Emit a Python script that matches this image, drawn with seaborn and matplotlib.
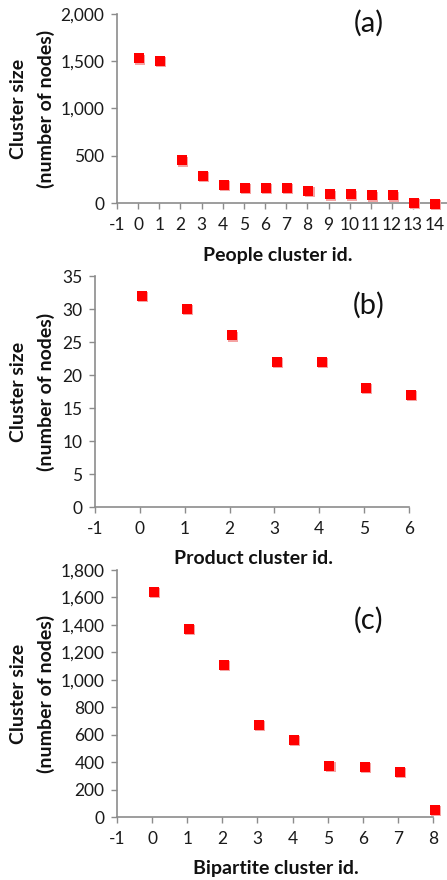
import matplotlib
matplotlib.use("Agg")
import matplotlib.pyplot as plt
import matplotlib.transforms as mtransforms
from matplotlib.ticker import FuncFormatter, MultipleLocator
import seaborn as sns
import pandas as pd

sns.set_theme(style="white")
plt.rcParams['font.family'] = ['Lato', 'DejaVu Sans']
plt.rcParams['axes.unicode_minus'] = False

# People clusters (a)
people_ids = list(range(15))
people_sizes = [1530, 1500, 450, 290, 190, 160, 160, 160, 130, 90, 90, 80, 80, 0, -10]

# Product clusters (b)
product_ids = list(range(7))
product_sizes = [32, 30, 26, 22, 22, 18, 17]

# Bipartite clusters (c)
bipartite_ids = list(range(9))
bipartite_sizes = [1640, 1370, 1110, 670, 560, 370, 365, 330, 50]

W, H = 447, 880
fig = plt.figure(figsize=(W / 100, H / 100), dpi=100)

GRAY = "#8c8c8c"
TXT = "#111111"


def box(left, top, right, bottom):
    return [left / W, 1 - bottom / H, (right - left) / W, (bottom - top) / H]


panels = [
    dict(ids=people_ids, sizes=people_sizes, rect=box(117, 14, 447, 203),
         xlim=(-1, 14.6), ylim=(0, 2000), ystep=500, tag="(a)",
         xlabel="People cluster id.", xlab=(278, 255), tag_y=23),
    dict(ids=product_ids, sizes=product_sizes, rect=box(95, 276, 409, 507),
         xlim=(-1, 6), ylim=(0, 35), ystep=5, tag="(b)",
         xlabel="Product cluster id.", xlab=(253, 558), tag_y=305),
    dict(ids=bipartite_ids, sizes=bipartite_sizes, rect=box(117, 570, 433, 817),
         xlim=(-1, 8), ylim=(0, 1800), ystep=200, tag="(c)",
         xlabel="Bipartite cluster id.", xlab=(276, 868), tag_y=620),
]

for p in panels:
    ax = fig.add_axes(p["rect"])
    df = pd.DataFrame({"id": p["ids"], "size": p["sizes"]})
    # soft shadow under each marker
    shadow = mtransforms.offset_copy(ax.transData, fig=fig, x=0.8, y=-0.8, units="points")
    ax.scatter(df["id"] + 0.05, df["size"], marker="s", s=52, color="#f5a3a3",
               linewidths=0, transform=shadow, clip_on=False, zorder=3)
    sns.scatterplot(data=df.assign(id=df["id"] + 0.05), x="id", y="size", ax=ax,
                    marker="s", s=42, color="#ff0000", linewidth=0,
                    clip_on=False, zorder=4, legend=False)
    ax.set_xlim(*p["xlim"])
    ax.set_ylim(*p["ylim"])
    ax.xaxis.set_major_locator(MultipleLocator(1))
    ax.yaxis.set_major_locator(MultipleLocator(p["ystep"]))
    ax.yaxis.set_major_formatter(FuncFormatter(lambda v, _: f"{int(v):,}"))
    for s in ["top", "right"]:
        ax.spines[s].set_visible(False)
    for s in ["left", "bottom"]:
        ax.spines[s].set_color(GRAY)
        ax.spines[s].set_linewidth(1.2)
    ax.tick_params(axis="both", which="major", direction="out", length=4,
                   width=1, color=GRAY, labelsize=12.5, labelcolor="#1a1a1a",
                   left=True, bottom=True, pad=5)
    ax.tick_params(axis="x", pad=6)
    ax.set_xlabel("")
    ax.set_ylabel("")
    ax.grid(False)
    ax.patch.set_alpha(0)

    ymid = p["rect"][1] + p["rect"][3] / 2
    fig.text(19 / W, ymid, "Cluster size", rotation=90, ha="center", va="center",
             fontsize=14, fontweight="bold", color=TXT)
    fig.text(46 / W, ymid, "(number of nodes)", rotation=90, ha="center", va="center",
             fontsize=14, fontweight="bold", color=TXT)
    fig.text(p["xlab"][0] / W, 1 - p["xlab"][1] / H, p["xlabel"], ha="center",
             va="center", fontsize=14, fontweight="bold", color=TXT)
    fig.text(369 / W, 1 - p["tag_y"] / H, p["tag"], ha="center", va="center",
             fontsize=21, color=TXT)

fig.savefig("out.png", dpi=100)
